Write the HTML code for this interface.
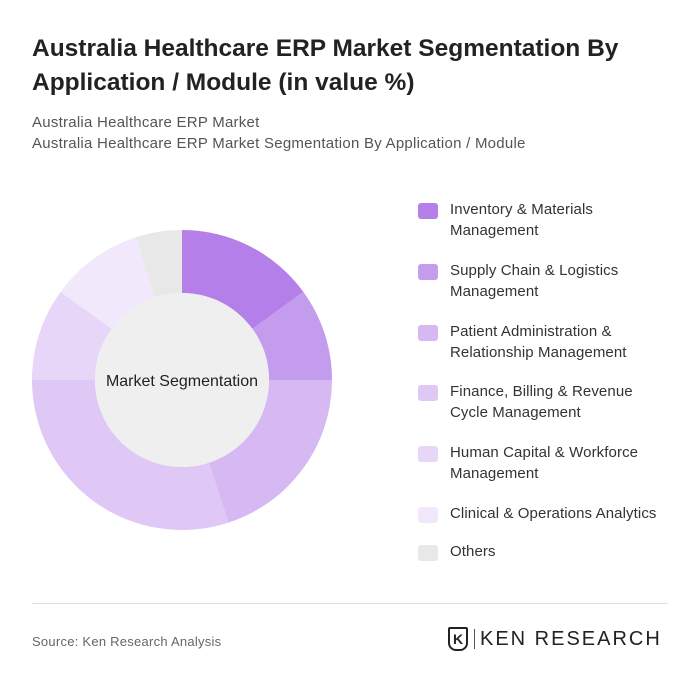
<!DOCTYPE html>
<html><head><meta charset="utf-8"><style>
body{margin:0;width:700px;height:688px;background:#fff;font-family:"Liberation Sans",sans-serif;position:relative;overflow:hidden}
.t{position:absolute;left:32px;top:32px;font-size:24.5px;font-weight:bold;color:#222;line-height:34px;width:650px}
.s{position:absolute;left:32px;font-size:15px;color:#555;letter-spacing:0.25px}
.leg{position:absolute;left:418px;font-size:15px;color:#333;line-height:21px;letter-spacing:0.1px}
.sw{position:absolute;left:0;top:4px;width:20px;height:16px;border-radius:3px}
.lt{position:absolute;left:32px;white-space:nowrap}
</style></head><body>
<div class="t">Australia Healthcare ERP Market Segmentation By Application / Module (in value %)</div>
<div class="s" style="top:114px">Australia Healthcare ERP Market</div>
<div class="s" style="top:135px">Australia Healthcare ERP Market Segmentation By Application / Module</div>
<svg id="c" width="700" height="688" style="position:absolute;left:0;top:0"></svg>
<div id="legend"></div>
<div style="position:absolute;left:32px;right:32px;top:603px;border-top:1px solid #ddd"></div>
<div class="s" style="top:634px;font-size:13px;color:#666">Source: Ken Research Analysis</div>
<div style="position:absolute;left:448px;top:627px;width:20px;height:24px;border:2px solid #222;border-radius:2px 2px 8px 8px;box-sizing:border-box;font-size:14px;font-weight:bold;text-align:center;line-height:20px;color:#222">K</div>
<div style="position:absolute;left:474px;top:629px;height:20px;border-left:1px solid #555"></div>
<div style="position:absolute;left:480px;top:628px;font-size:20px;color:#222;letter-spacing:2px">KEN RESEARCH</div>
<script>
const categories=["Inventory & Materials Management","Supply Chain & Logistics Management","Patient Administration & Relationship Management","Finance, Billing & Revenue Cycle Management","Human Capital & Workforce Management","Clinical & Operations Analytics","Others"];
const legendLines=[["Inventory & Materials","Management"],["Supply Chain & Logistics","Management"],["Patient Administration &","Relationship Management"],["Finance, Billing & Revenue","Cycle Management"],["Human Capital & Workforce","Management"],["Clinical & Operations Analytics"],["Others"]];
const values=[15,10,20,30,10,10,5];
const colors=["#b57fea","#c49ced","#d6b9f3","#dfc8f5","#e7d6f8","#f1e9fb","#e8e8e8"];
const svg=document.getElementById('c'),NS="http://www.w3.org/2000/svg";
const cx=182,cy=380,R=150,r=87;
const total=values.reduce((a,b)=>a+b,0);
let a0=0;
function pt(a,rad){return [cx+rad*Math.sin(a),cy-rad*Math.cos(a)];}
values.forEach((v,i)=>{
 const a1=a0+v/total*2*Math.PI;
 const [x0,y0]=pt(a0,R),[x1,y1]=pt(a1,R),[x2,y2]=pt(a1,r),[x3,y3]=pt(a0,r);
 const lg=(a1-a0)>Math.PI?1:0;
 const p=document.createElementNS(NS,'path');
 p.setAttribute('d',`M${x0},${y0}A${R},${R} 0 ${lg} 1 ${x1},${y1}L${x2},${y2}A${r},${r} 0 ${lg} 0 ${x3},${y3}Z`);
 p.setAttribute('fill',colors[i]);
 
 
 svg.appendChild(p);
 a0=a1;
});
const c=document.createElementNS(NS,'circle');
c.setAttribute('cx',cx);c.setAttribute('cy',cy);c.setAttribute('r',r);c.setAttribute('fill','#efefef');


svg.appendChild(c);
const t=document.createElementNS(NS,'text');
t.setAttribute('x',cx);t.setAttribute('y',cy+6);t.setAttribute('text-anchor','middle');
t.setAttribute('font-size','16');t.setAttribute('fill','#222');t.setAttribute('font-family','Liberation Sans, sans-serif');
t.textContent='Market Segmentation';


svg.appendChild(t);
const tops=[199,260,321,381,442,503,541];
const L=document.getElementById('legend');
categories.forEach((cat,i)=>{
 const d=document.createElement('div');d.className='leg';d.style.top=tops[i]+'px';
 
 
 d.innerHTML=`<div class="sw" style="background:${colors[i]}"></div>`+legendLines[i].map((l,j)=>`<div class="lt" style="top:${j*21}px">${l.replace(/&/g,'&amp;')}</div>`).join('');
 L.appendChild(d);
});
</script>
</body></html>
